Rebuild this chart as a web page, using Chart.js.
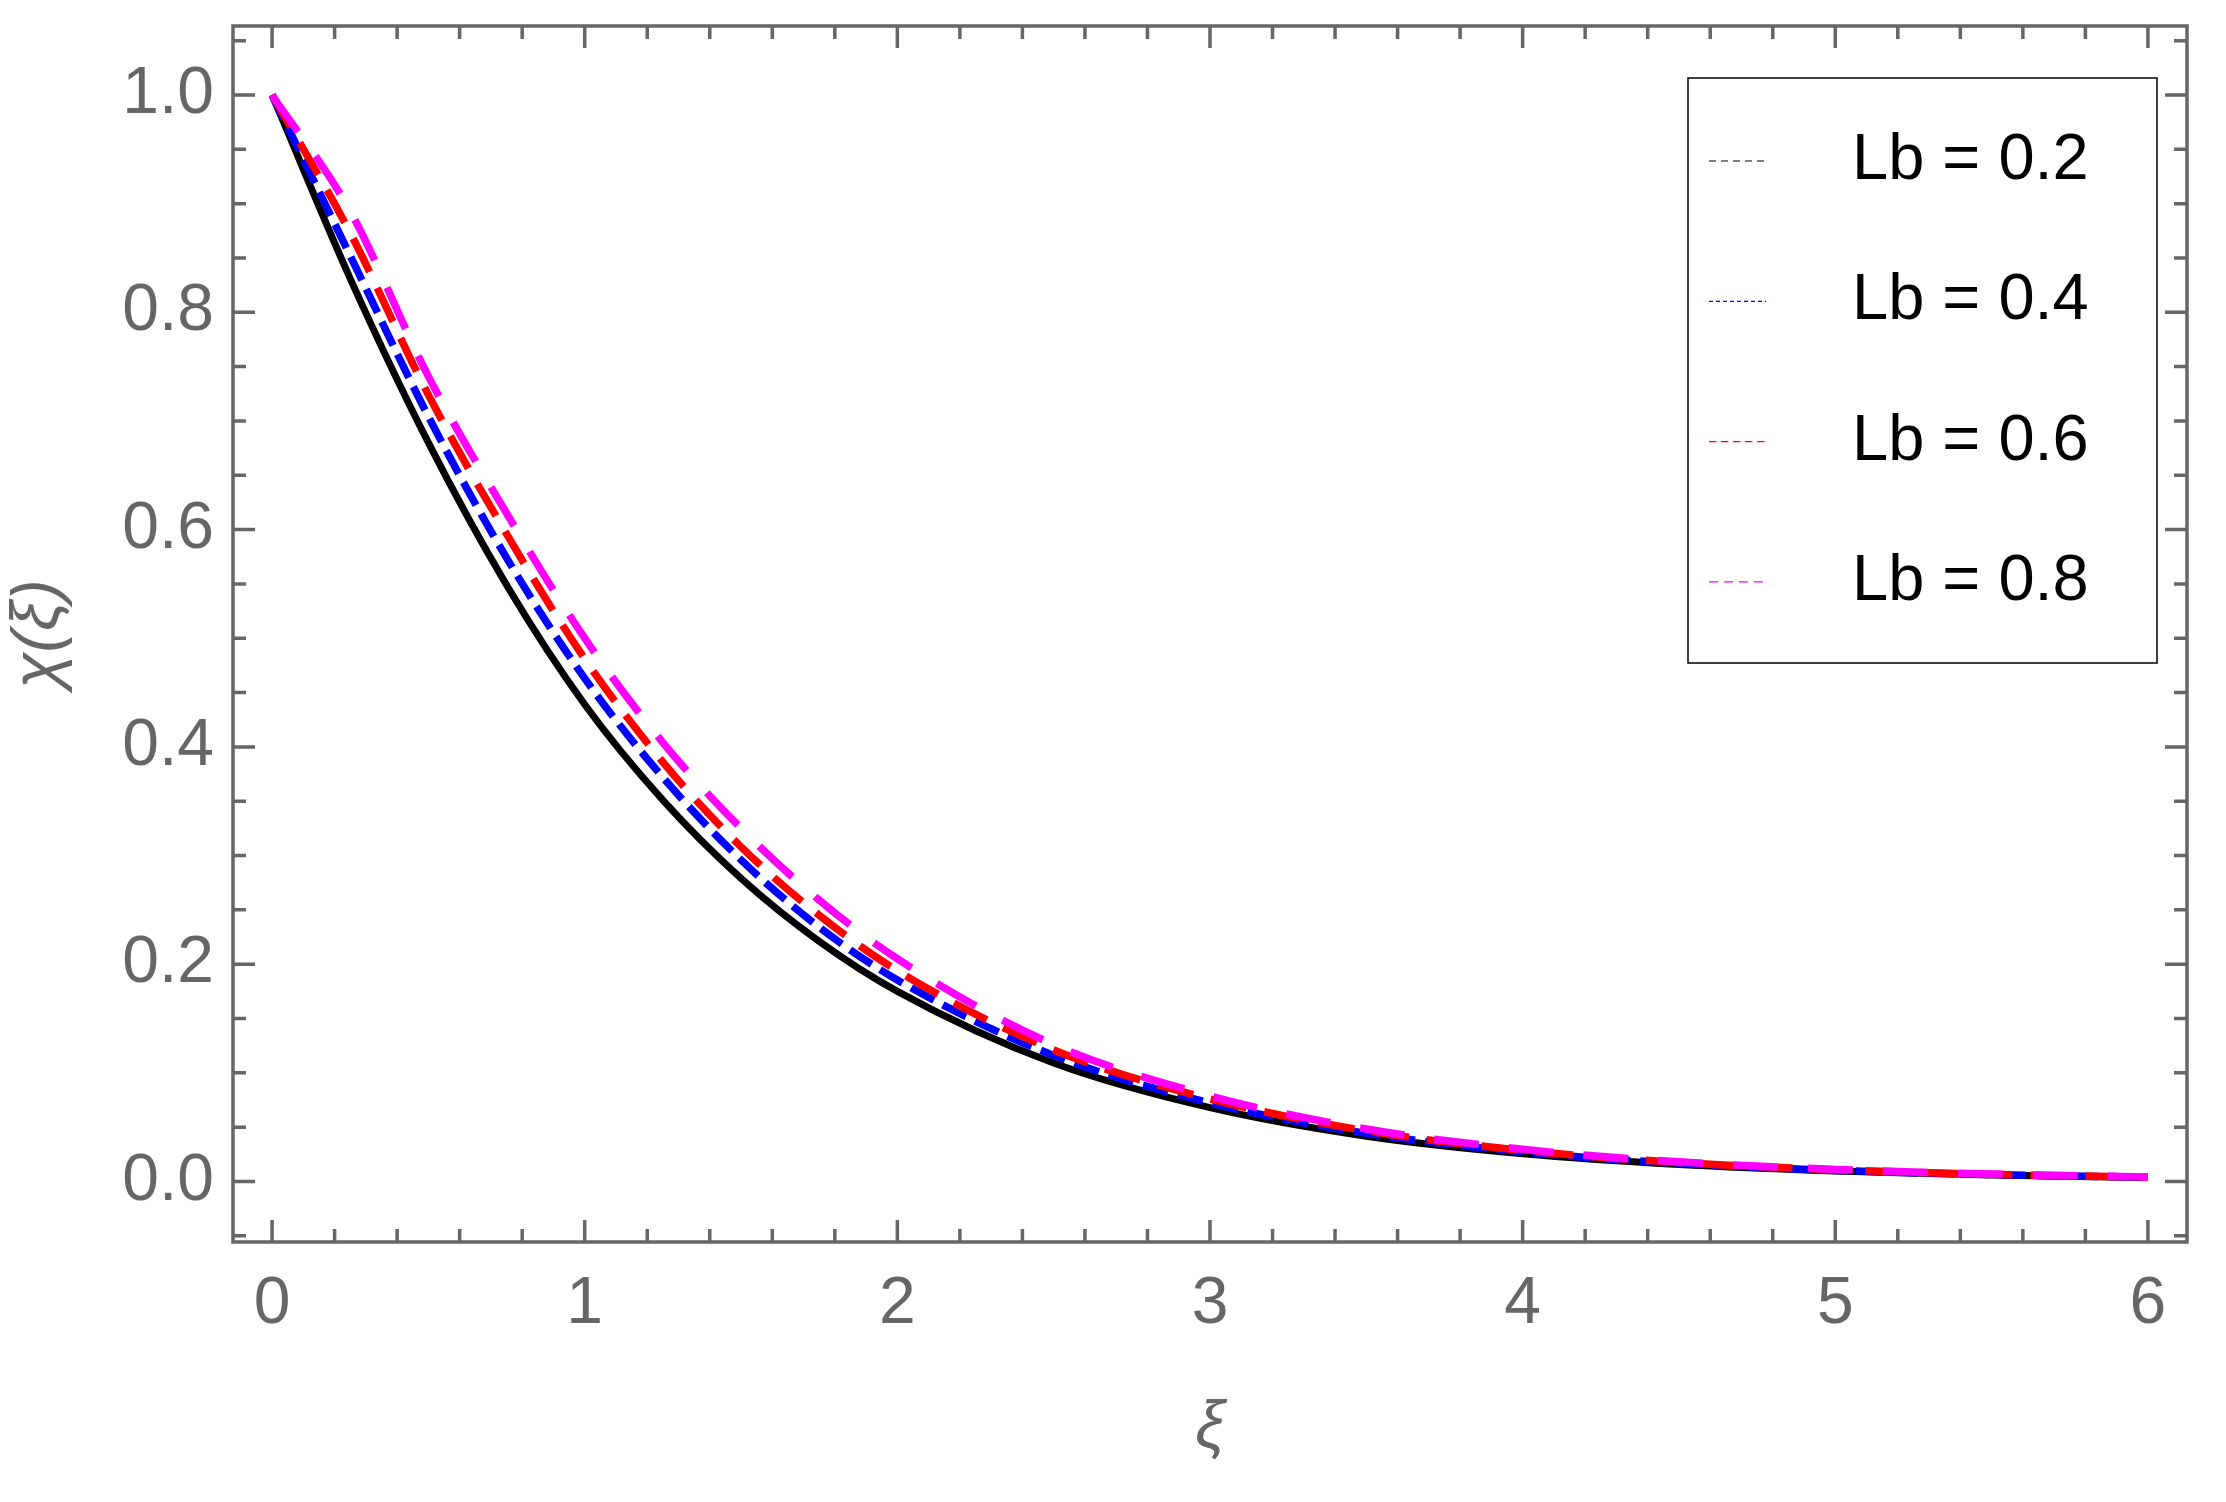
<!DOCTYPE html>
<html>
<head>
<meta charset="utf-8">
<title>chi(xi) for several Lb</title>
<script src="https://cdn.jsdelivr.net/npm/chart.js@4.4.1/dist/chart.umd.min.js"></script>
<style>
  html, body { margin: 0; padding: 0; background: #ffffff; }
  #plot { display: block; }
</style>
</head>
<body>
<canvas id="plot" width="2226" height="1502"></canvas>
<script>
// values
const xi = [0, 0.25, 0.5, 0.75, 1, 1.25, 1.5, 1.75, 2, 2.5, 3, 3.5, 4, 4.5, 5, 5.5, 6];
const lb02 = [1, 0.831, 0.680, 0.549, 0.439, 0.351, 0.279, 0.221, 0.175, 0.109, 0.0679, 0.0416, 0.0255, 0.0156, 0.0096, 0.0059, 0.0036];
const lb04 = [1, 0.852, 0.704, 0.574, 0.463, 0.372, 0.296, 0.234, 0.1855, 0.116, 0.0723, 0.0443, 0.0272, 0.0166, 0.0102, 0.0063, 0.0039];
const lb06 = [1, 0.873, 0.724, 0.596, 0.481, 0.386, 0.308, 0.245, 0.194, 0.121, 0.0760, 0.0466, 0.0286, 0.0175, 0.0108, 0.0066, 0.0040];
const lb08 = [1, 0.893, 0.741, 0.615, 0.500, 0.404, 0.325, 0.259, 0.205, 0.126, 0.0788, 0.0483, 0.0296, 0.0181, 0.0111, 0.0068, 0.0042];

const seriesLabels = ['Lb = 0.2', 'Lb = 0.4', 'Lb = 0.6', 'Lb = 0.8'];
const xTickValues = [0, 1, 2, 3, 4, 5, 6];
const yTickValues = [0, 0.2, 0.4, 0.6, 0.8, 1.0];

const frameColor = '#666666';
const fontFamily = '"Liberation Sans", Arial, sans-serif';

function points(ys) {
    return xi.map((x, i) => ({ x: x, y: ys[i] }));
}

// Mathematica style frame: ticks pointing inwards on all four sides
const framePlugin = {
    id: 'mmaFrame',
    afterDatasetsDraw(chart) {
        const { ctx, chartArea: a, scales } = chart;
        const xs = scales.x, ys = scales.y;
        ctx.save();
        ctx.strokeStyle = frameColor;
        ctx.lineWidth = 3.5;
        ctx.lineCap = 'butt';

        ctx.beginPath();
        // x ticks, bottom and top
        for (let k = 0; k <= 30; k++) {
            const v = k * 0.2;
            const major = k % 5 === 0;
            const len = major ? 22 : 13;
            const px = xs.getPixelForValue(v);
            ctx.moveTo(px, a.bottom);
            ctx.lineTo(px, a.bottom - len);
            ctx.moveTo(px, a.top);
            ctx.lineTo(px, a.top + len);
        }
        // y ticks, left and right
        for (let k = -1; k <= 21; k++) {
            const v = k * 0.05;
            const major = k >= 0 && k % 4 === 0;
            const len = major ? 22 : 13;
            const py = ys.getPixelForValue(v);
            if (py < a.top || py > a.bottom) continue;
            ctx.moveTo(a.left, py);
            ctx.lineTo(a.left + len, py);
            ctx.moveTo(a.right, py);
            ctx.lineTo(a.right - len, py);
        }
        ctx.stroke();

        ctx.strokeRect(a.left, a.top, a.right - a.left, a.bottom - a.top);
        ctx.restore();
    }
};

// boxed legend in the upper right, thin dashed samples
const legendPlugin = {
    id: 'boxLegend',
    afterDraw(chart) {
        const { ctx, chartArea: a } = chart;
        const box = { left: a.right - 499, top: a.top + 52, width: 469, height: 585 };
        ctx.save();
        ctx.strokeStyle = '#000000';
        ctx.lineWidth = 1.5;
        ctx.strokeRect(box.left, box.top, box.width, box.height);

        ctx.font = '65px ' + fontFamily;
        ctx.textBaseline = 'middle';
        ctx.textAlign = 'left';
        chart.data.datasets.forEach((ds, i) => {
            const cy = box.top + 83 + i * 140.3;
            ctx.beginPath();
            ctx.strokeStyle = ds.borderColor;
            ctx.lineWidth = 1.2;
            ctx.setLineDash(ds.legendDash);
            ctx.moveTo(box.left + 21, cy);
            ctx.lineTo(box.left + 78, cy);
            ctx.stroke();
            ctx.setLineDash([]);
            ctx.fillStyle = '#000000';
            ctx.fillText(ds.label, box.left + 164, cy);
        });
        ctx.restore();
    }
};

const ctx = document.getElementById('plot').getContext('2d');

new Chart(ctx, {
    type: 'line',
    data: {
        datasets: [
            {
                label: seriesLabels[0],
                data: points(lb02),
                borderColor: '#000000',
                borderWidth: 7,
                borderDash: [],
                legendDash: [7, 5],
                order: 4
            },
            {
                label: seriesLabels[1],
                data: points(lb04),
                borderColor: '#0000ff',
                borderWidth: 7.5,
                borderDash: [26, 10],
                legendDash: [4, 3],
                order: 3
            },
            {
                label: seriesLabels[2],
                data: points(lb06),
                borderColor: '#ff0000',
                borderWidth: 7.5,
                borderDash: [37, 18],
                legendDash: [7.5, 4.5],
                order: 2
            },
            {
                label: seriesLabels[3],
                data: points(lb08),
                borderColor: '#ff00ff',
                borderWidth: 7.5,
                borderDash: [45, 30],
                legendDash: [9, 6],
                order: 1
            }
        ]
    },
    options: {
        responsive: false,
        animation: false,
        devicePixelRatio: 1,
        layout: {
            padding: { top: 26, right: 39, left: 0, bottom: 0 }
        },
        elements: {
            point: { radius: 0 },
            line: { cubicInterpolationMode: 'monotone', borderCapStyle: 'butt', fill: false }
        },
        scales: {
            x: {
                type: 'linear',
                min: -0.125,
                max: 6.125,
                afterBuildTicks: (axis) => { axis.ticks = xTickValues.map(v => ({ value: v })); },
                afterFit: (axis) => {
                    axis.height = 260;
                    axis.paddingLeft = 0;
                    axis.paddingRight = 0;
                },
                grid: { display: false, drawTicks: false },
                border: { display: false },
                ticks: {
                    color: frameColor,
                    padding: 23,
                    maxRotation: 0,
                    font: { family: fontFamily, size: 66 },
                    callback: (v) => String(v)
                },
                title: {
                    display: true,
                    text: 'ξ',
                    color: frameColor,
                    padding: { top: 0, bottom: 33 },
                    font: { family: fontFamily, size: 66, style: 'italic' }
                }
            },
            y: {
                type: 'linear',
                min: -0.0557,
                max: 1.0635,
                afterBuildTicks: (axis) => { axis.ticks = yTickValues.map(v => ({ value: v })); },
                afterFit: (axis) => {
                    axis.width = 233;
                    axis.paddingTop = 0;
                    axis.paddingBottom = 0;
                },
                grid: { display: false, drawTicks: false },
                border: { display: false },
                ticks: {
                    color: frameColor,
                    padding: 19,
                    font: { family: fontFamily, size: 66 },
                    callback: (v) => Number(v).toFixed(1)
                },
                title: {
                    display: true,
                    text: 'χ(ξ)',
                    color: frameColor,
                    padding: { top: 0, bottom: 0 },
                    font: { family: fontFamily, size: 66, style: 'italic' }
                }
            }
        },
        plugins: {
            legend: { display: false },
            tooltip: { enabled: false }
        }
    },
    plugins: [framePlugin, legendPlugin]
});
</script>
</body>
</html>
